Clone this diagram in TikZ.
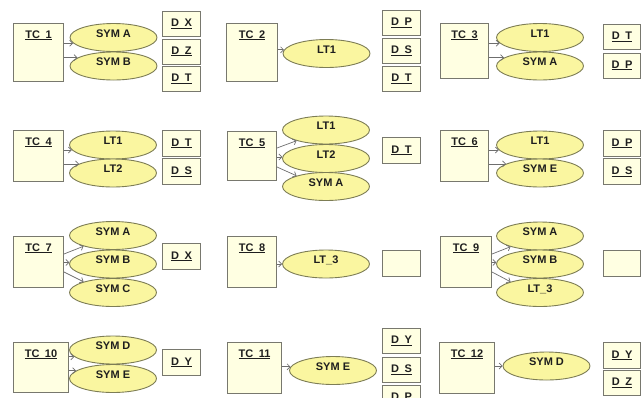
\documentclass[tikz,border=0pt]{standalone}
\usepackage{fontspec}
\setmainfont{Liberation Sans}
\usetikzlibrary{shapes.geometric,arrows.meta}
\definecolor{boxfill}{RGB}{255,255,226}
\definecolor{boxline}{RGB}{120,120,110}
\definecolor{ellfill}{RGB}{250,246,160}
\definecolor{ellline}{RGB}{125,125,85}
\definecolor{linkgray}{RGB}{110,110,110}
\definecolor{ink}{RGB}{30,30,30}
\newcommand\uln[1]{\underline{#1}}
\tikzset{
  lbl/.style={font=\fontsize{11}{12}\selectfont\bfseries, text=ink},
  tcbox/.style={lbl, draw=boxline, fill=boxfill, line width=1pt, rectangle,
    anchor=north west, inner sep=0pt, text height=14.5pt},
  sym/.style={lbl, draw=ellline, fill=ellfill, line width=0.9pt, ellipse,
    inner sep=0pt, minimum width=87pt, minimum height=28pt,
    text height=7pt, text depth=8pt},
  dbox/.style={lbl, draw=boxline, fill=boxfill, line width=1pt, rectangle,
    anchor=north west, inner sep=0pt, minimum width=38pt, minimum height=25pt},
  link/.style={draw=linkgray, line width=0.7pt,
    -{Straight Barb[length=3pt,width=6pt]}},
}
\begin{document}
\begin{tikzpicture}[x=1pt,y=-1pt]
\useasboundingbox[fill=white] (0,0) rectangle (642,397);

% ---------- row 1 ----------
\node[tcbox, minimum width=50pt, text depth=43.5pt] (tc1) at (13,23) {\uln{TC\enspace1}};
\node[sym] (a1) at (113.5,37.5) {SYM A};
\node[sym] (b1) at (113.5,66) {SYM B};
\node[dbox] (d1x) at (162,11) {\uln{D\enspace X}};
\node[dbox] (d1z) at (162,38.5) {\uln{D\enspace Z}};
\node[dbox] (d1t) at (162,66) {\uln{D\enspace T}};
\draw[link] (tc1.east |- a1.188) -- (a1.188);
\draw[link] (tc1.east |- b1.167) -- (b1.167);

\node[tcbox, minimum width=51pt, text depth=43.5pt] (tc2) at (226,23) {\uln{TC\enspace2}};
\node[sym] (a2) at (326.5,53.5) {LT1};
\node[dbox] (d2p) at (382,10) {\uln{D\enspace P}};
\node[dbox] (d2s) at (382,38) {\uln{D\enspace S}};
\node[dbox] (d2t) at (382,66) {\uln{D\enspace T}};
\draw[link] (tc2.east |- a2.175) -- (a2.175);

\node[tcbox, minimum width=48pt, text depth=40.5pt] (tc3) at (440,23) {\uln{TC\enspace3}};
\node[sym] (a3) at (540,37.5) {LT1};
\node[sym] (b3) at (540,66) {SYM A};
\node[dbox, minimum width=37pt] (d3t) at (603,24) {\uln{D\enspace T}};
\node[dbox, minimum width=37pt] (d3p) at (603,52.5) {\uln{D\enspace P}};
\draw[link] (tc3.east |- a3.188) -- (a3.188);
\draw[link] (tc3.east |- b3.167) -- (b3.167);

% ---------- row 2 ----------
\node[tcbox, minimum width=50pt, text depth=36.5pt] (tc4) at (13,130) {\uln{TC\enspace4}};
\node[sym] (a4) at (113,145) {LT1};
\node[sym] (b4) at (113,173) {LT2};
\node[dbox, minimum height=26pt] (d4t) at (162,130) {\uln{D\enspace T}};
\node[dbox, minimum height=26pt] (d4s) at (162,158) {\uln{D\enspace S}};
\draw[link] (tc4.east |- a4.187) -- (a4.187);
\draw[link] (tc4.east |- b4.165) -- (b4.165);

\node[tcbox, minimum width=49pt, text depth=34.5pt] (tc5) at (227,131) {\uln{TC\enspace5}};
\node[sym] (a5) at (326,130) {LT1};
\node[sym] (b5) at (326,158.5) {LT2};
\node[sym] (c5) at (326,186.5) {SYM A};
\node[dbox, minimum height=26pt] (d5t) at (382,137) {\uln{D\enspace T}};
\draw[link] ([yshift=8pt]tc5.east) -- (a5.200);
\draw[link] (tc5.east |- b5.178) -- (b5.178);
\draw[link] ([yshift=-11pt]tc5.east) -- (c5.160);

\node[tcbox, minimum width=48pt, text depth=36.5pt] (tc6) at (440,130) {\uln{TC\enspace6}};
\node[sym] (a6) at (540,145) {LT1};
\node[sym] (b6) at (540,173) {SYM E};
\node[dbox, minimum width=37pt, minimum height=26pt] (d6p) at (603,130) {\uln{D\enspace P}};
\node[dbox, minimum width=37pt, minimum height=26pt] (d6s) at (603,158) {\uln{D\enspace S}};
\draw[link] (tc6.east |- a6.187) -- (a6.187);
\draw[link] (tc6.east |- b6.165) -- (b6.165);

% ---------- row 3 ----------
\node[tcbox, minimum width=50pt, text depth=36.5pt] (tc7) at (13,236) {\uln{TC\enspace7}};
\node[sym] (a7) at (113,235.5) {SYM A};
\node[sym] (b7) at (113,264) {SYM B};
\node[sym] (c7) at (113,292.5) {SYM C};
\node[dbox, minimum height=26pt] (d7x) at (162,243) {\uln{D\enspace X}};
\draw[link] ([yshift=8pt]tc7.east) -- (a7.200);
\draw[link] (tc7.east |- b7.178) -- (b7.178);
\draw[link] ([yshift=-10pt]tc7.east) -- (c7.160);

\node[tcbox, minimum width=49pt, text depth=36.5pt] (tc8) at (227,236) {\uln{TC\enspace8}};
\node[sym] (a8) at (326,264) {LT\_3};
\node[dbox, minimum height=26pt] (d8) at (382,250) {};
\draw[link] (tc8.east |- a8.180) -- (a8.180);

\node[tcbox, minimum width=51pt, text depth=36.5pt] (tc9) at (440,236) {\uln{TC\enspace9}};
\node[sym] (a9) at (540,236) {SYM A};
\node[sym] (b9) at (540,264) {SYM B};
\node[sym] (c9) at (540,292.5) {LT\_3};
\node[dbox, minimum width=37pt, minimum height=26pt] (d9) at (603,250) {};
\draw[link] ([yshift=8pt]tc9.east) -- (a9.200);
\draw[link] (tc9.east |- b9.178) -- (b9.178);
\draw[link] ([yshift=-10pt]tc9.east) -- (c9.160);

% ---------- row 4 ----------
\node[tcbox, minimum width=55pt, text depth=35.5pt] (tc10) at (13,342) {\uln{TC\enspace10}};
\node[sym] (a10) at (113,350) {SYM D};
\node[sym] (b10) at (113,378.5) {SYM E};
\node[dbox, minimum height=26pt] (d10y) at (162,349) {\uln{D\enspace Y}};
\draw[link] (tc10.east |- a10.190) -- (a10.190);
\draw[link] (tc10.east |- b10.168) -- (b10.168);

\node[tcbox, minimum width=54pt, text depth=36.5pt] (tc11) at (227,342) {\uln{TC\enspace11}};
\node[sym] (a11) at (333,370.5) {SYM E};
\node[dbox] (d11y) at (382,328) {\uln{D\enspace Y}};
\node[dbox] (d11s) at (382,357) {\uln{D\enspace S}};
\node[dbox] (d11p) at (382,385) {\uln{D\enspace P}};
\draw[link] (tc11.east |- a11.175) -- (a11.175);

\node[tcbox, minimum width=55pt, text depth=36.5pt] (tc12) at (439,342) {\uln{TC\enspace12}};
\node[sym] (a12) at (546.5,366) {SYM D};
\node[dbox, minimum width=37pt, minimum height=26pt] (d12y) at (603,342) {\uln{D\enspace Y}};
\node[dbox, minimum width=37pt] (d12z) at (603,370) {\uln{D\enspace Z}};
\draw[link] (tc12.east |- a12.180) -- (a12.180);
\end{tikzpicture}
\end{document}
